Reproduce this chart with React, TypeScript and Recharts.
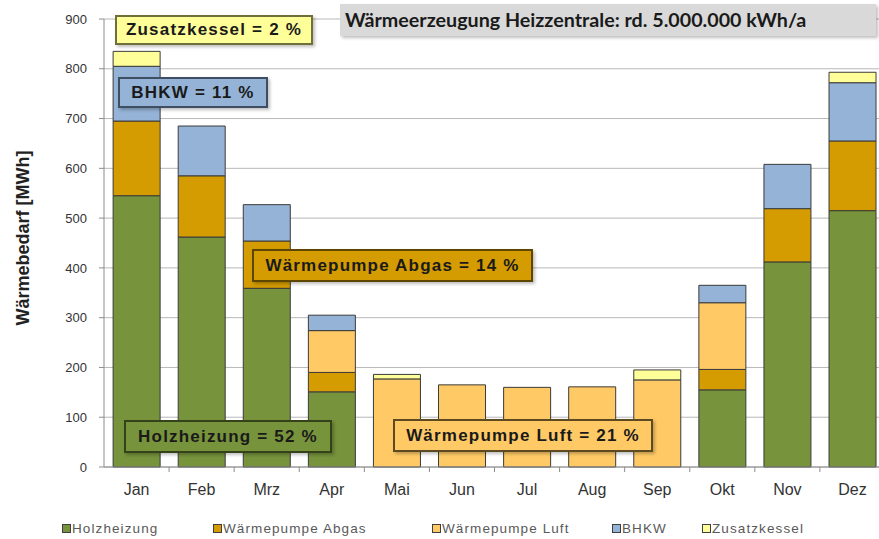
import React from 'react'
import { BarChart, Bar, XAxis, YAxis, CartesianGrid, Legend } from 'recharts'

const months = ['Jan', 'Feb', 'Mrz', 'Apr', 'Mai', 'Jun', 'Jul', 'Aug', 'Sep', 'Okt', 'Nov', 'Dez']
const holzheizung = [545, 462, 359, 151, 0, 0, 0, 0, 0, 155, 412, 515]
const wpAbgas = [150, 123, 95, 39, 0, 0, 0, 0, 0, 41, 107, 140]
const wpLuft = [0, 0, 0, 84, 177, 165, 160, 161, 175, 134, 0, 0]
const bhkw = [110, 100, 73, 31, 0, 0, 0, 0, 0, 35, 89, 117]
const zusatzkessel = [30, 0, 0, 0, 9, 0, 0, 0, 20, 0, 0, 21]
const yTicks = [0, 100, 200, 300, 400, 500, 600, 700, 800, 900]

const series = [
  { key: 'holz', name: 'Holzheizung', color: '#77933c' },
  { key: 'abgas', name: 'Wärmepumpe Abgas', color: '#d49c00' },
  { key: 'luft', name: 'Wärmepumpe Luft', color: '#ffca66' },
  { key: 'bhkw', name: 'BHKW', color: '#95b3d7' },
  { key: 'zusatz', name: 'Zusatzkessel', color: '#ffff99' },
]

const data = months.map((m, i) => ({
  month: m,
  holz: holzheizung[i],
  abgas: wpAbgas[i],
  luft: wpLuft[i],
  bhkw: bhkw[i],
  zusatz: zusatzkessel[i],
}))

const arial = '"Liberation Sans", Arial, sans-serif'

const CHART_W = 885
const Y_AXIS_W = 104
const BAND = (CHART_W - Y_AXIS_W) / months.length

// text boxes drawn over the plot
const notes = [
  { text: 'Zusatzkessel = 2 %', left: 115, top: 15, width: 198, height: 30, fill: '#ffff99', border: '#6f6f3a' },
  { text: 'BHKW = 11 %', left: 118, top: 77, width: 150, height: 31, fill: '#95b3d7', border: '#3f4f63' },
  { text: 'Wärmepumpe Abgas = 14 %', left: 252, top: 249, width: 281, height: 33, fill: '#d49c00', border: '#5e4500' },
  { text: 'Holzheizung = 52 %', left: 124, top: 420, width: 208, height: 33, fill: '#77933c', border: '#34421a' },
  { text: 'Wärmepumpe Luft = 21 %', left: 393, top: 419, width: 260, height: 33, fill: '#ffca66', border: '#5e4a20' },
]

// month label plus the small excel style tick at the right edge of each category
const MonthTick = (props: any) => {
  const { x, y, payload } = props
  const edge = x + BAND / 2
  return (
    <g>
      <line x1={edge} y1={467} x2={edge} y2={472} stroke="#8c8c8c" />
      <text x={x} y={y} dy="0.71em" textAnchor="middle" fill="#333" fontSize={16} fontFamily={arial}>
        {payload.value}
      </text>
    </g>
  )
}

const LegendContent = () => {
  const xs = [62, 213, 432, 612, 702]
  return (
    <div style={{ position: 'relative', width: 879, height: 20 }}>
      {series.map((s, i) => (
        <div key={s.key} style={{ position: 'absolute', left: xs[i], top: 2, display: 'flex', alignItems: 'center', fontFamily: arial, fontSize: 13.5, letterSpacing: 1.1, color: '#595959', whiteSpace: 'nowrap' }}>
          <span style={{ display: 'inline-block', width: 7, height: 7, background: s.color, border: '1px solid #404040', marginRight: 1 }} />
          {s.name}
        </div>
      ))}
    </div>
  )
}

export default function App() {
  return (
    <div style={{ position: 'absolute', left: 0, top: 0, width: 879, height: 539, overflow: 'hidden', background: '#fff' }}>
      <BarChart
        width={CHART_W}
        height={539}
        data={data}
        margin={{ top: 19, right: 0, bottom: 0, left: 0 }}
        barCategoryGap="14%"
      >
        <CartesianGrid vertical={false} stroke="#b8b8b8" strokeWidth={1} />
        <XAxis
          dataKey="month"
          height={52}
          axisLine={{ stroke: '#8c8c8c' }}
          tickLine={false}
          tick={<MonthTick />}
          tickMargin={11}
        />
        <YAxis
          width={Y_AXIS_W}
          domain={[0, 900]}
          ticks={yTicks}
          interval={0}
          axisLine={{ stroke: '#8c8c8c' }}
          tickLine={{ stroke: '#8c8c8c' }}
          tickSize={5}
          tickMargin={12}
          tick={{ fill: '#333', fontSize: 13, fontFamily: arial }}
          label={{
            value: 'Wärmebedarf [MWh]',
            angle: -90,
            position: 'insideLeft',
            dx: 18,
            dy: -5,
            style: { fill: '#222', fontSize: 18, fontWeight: 'bold', fontFamily: arial, textAnchor: 'middle' },
          }}
        />
        <Legend
          verticalAlign="bottom"
          content={<LegendContent />}
          wrapperStyle={{ position: 'absolute', left: 0, top: 519, width: 879 }}
        />
        {series.map((s) => (
          <Bar
            key={s.key}
            dataKey={s.key}
            name={s.name}
            stackId="a"
            fill={s.color}
            stroke="#3a3a3a"
            strokeWidth={1}
            isAnimationActive={false}
          />
        ))}
      </BarChart>

      <div
        style={{
          position: 'absolute', left: 340, top: 4, width: 536, height: 32, background: '#d9d9d9',
          boxShadow: '2px 2px 3px rgba(0,0,0,0.25)', fontFamily: 'Lato, "Open Sans", sans-serif', fontWeight: 'bold',
          fontSize: 19.7, color: '#1a1a1a', lineHeight: '32px', paddingLeft: 5, boxSizing: 'border-box', whiteSpace: 'nowrap',
        }}
      >
        Wärmeerzeugung Heizzentrale: rd. 5.000.000 kWh/a
      </div>

      {notes.map((n) => (
        <div
          key={n.text}
          style={{
            position: 'absolute', left: n.left, top: n.top, width: n.width, height: n.height, background: n.fill,
            border: `2px solid ${n.border}`, boxSizing: 'border-box', boxShadow: '2px 2px 3px rgba(0,0,0,0.25)',
            fontFamily: arial, fontWeight: 'bold', fontSize: 17, letterSpacing: 1.2, color: '#1a1a1a',
            display: 'flex', alignItems: 'center', justifyContent: 'center', whiteSpace: 'nowrap',
          }}
        >
          {n.text}
        </div>
      ))}
    </div>
  )
}
